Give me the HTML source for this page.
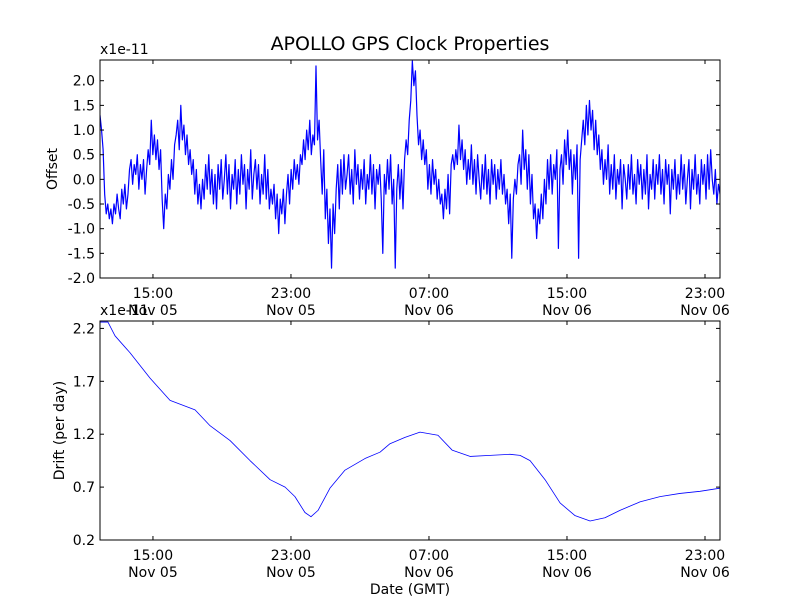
<!DOCTYPE html>
<html><head><meta charset="utf-8"><style>
body{margin:0;background:#fff}
svg{display:block;font-family:"DejaVu Sans","Liberation Sans",sans-serif}
</style></head><body>
<svg id="chart" width="800" height="600" viewBox="0 0 800 600" xmlns="http://www.w3.org/2000/svg">
<rect width="800" height="600" fill="#fff"/>
<text x="410" y="50" text-anchor="middle" font-size="19">APOLLO GPS Clock Properties</text>
<g id="top"></g>
<g id="bot"></g>
</svg>
<script>
const tickHours = [15, 23, 31, 39, 47];
const tickTimes = ["15:00", "23:00", "07:00", "15:00", "23:00"];
const tickDates = ["Nov 05", "Nov 05", "Nov 06", "Nov 06", "Nov 06"];
const offsetTicks = [-2.0, -1.5, -1.0, -0.5, 0.0, 0.5, 1.0, 1.5, 2.0];
const driftTicks = [0.2, 0.7, 1.2, 1.7, 2.2];
const offsetStart = 11.93;
const offsetEnd = 47.87;
const offsetValues = [
1.3,1.0,0.6,-0.3,-0.7,-0.5,-0.8,-0.6,-0.9,-0.5,
-0.7,-0.3,-0.6,-0.8,-0.2,-0.5,-0.1,-0.6,-0.3,0.2,
0.4,-0.1,0.3,0.1,0.5,-0.2,0.3,0.0,0.4,-0.3,
0.2,0.6,0.3,1.2,0.5,0.9,0.4,0.8,0.2,0.6,
-0.4,-1.0,-0.3,-0.6,0.1,-0.2,0.4,0.0,0.7,0.9,
1.2,0.6,1.5,0.8,1.1,0.5,0.9,0.3,0.6,0.1,
0.4,-0.3,0.2,-0.5,-0.1,-0.6,0.0,-0.4,0.3,-0.2,
0.5,-0.3,0.2,-0.5,0.1,-0.6,0.3,-0.2,0.4,-0.4,
0.0,0.5,-0.3,0.3,-0.6,0.1,-0.2,0.4,-0.5,0.2,
-0.3,0.5,-0.1,0.3,-0.6,0.2,-0.2,0.6,-0.4,0.1,
0.4,-0.2,0.3,-0.5,0.1,-0.3,0.5,-0.4,0.2,-0.6,
-0.2,-0.5,-0.1,-0.8,-0.3,-1.1,-0.4,-0.7,-0.2,-0.9,
-0.3,0.1,-0.5,0.2,-0.2,0.4,0.0,0.3,-0.1,0.5,
0.3,0.8,0.4,1.0,0.6,1.2,0.5,0.9,0.7,2.3,
0.8,1.2,0.4,-0.3,0.6,-0.8,-0.2,-1.3,-0.6,-1.8,
-0.5,-1.1,-0.2,0.3,-0.6,0.4,-0.3,0.5,-0.2,0.1,
0.5,-0.3,0.2,-0.5,0.6,-0.1,0.3,-0.4,0.2,-0.2,
0.4,-0.5,0.1,-0.2,0.5,-0.3,0.3,-0.6,0.2,-0.1,
0.3,-0.4,-1.5,0.1,-0.3,0.4,-0.2,0.5,-0.5,0.0,
-1.8,-0.2,0.3,-0.4,0.2,-0.6,0.4,0.8,0.5,1.2,
1.6,2.4,1.9,2.2,1.3,0.7,1.0,0.4,0.8,0.3,
0.6,-0.2,0.3,-0.3,0.4,-0.1,0.2,-0.4,0.0,-0.5,
-0.3,-0.8,-0.2,-0.6,0.1,-0.7,0.3,0.5,0.2,0.6,
0.3,1.1,0.4,0.8,0.2,0.6,-0.1,0.4,0.0,0.7,
-0.1,0.4,-0.3,0.5,0.0,-0.4,0.3,-0.2,0.5,-0.3,
0.2,-0.5,0.4,-0.1,0.3,-0.4,0.2,-0.2,0.4,-0.3,
0.1,-0.5,-0.2,-0.9,-0.3,-1.6,-0.4,0.0,-0.3,0.3,
0.5,-0.1,1.0,0.2,0.6,-0.2,0.5,-0.5,0.1,-0.8,
-0.5,-1.2,-0.6,-0.9,-0.3,-0.8,0.0,-0.5,0.4,-0.2,
0.5,-0.3,0.3,0.0,0.6,-1.4,0.2,0.5,-0.1,0.8,
0.3,1.0,0.2,0.6,-0.3,0.5,0.0,0.7,-1.6,0.4,
0.8,1.2,0.7,1.5,0.9,1.6,1.0,1.4,0.6,1.2,
0.5,0.9,0.2,0.6,-0.1,0.4,0.0,0.7,-0.3,0.3,
-0.2,0.5,-0.4,0.2,-0.1,0.4,-0.6,0.3,0.0,-0.4,
0.3,-0.2,0.5,-0.3,0.1,-0.5,0.4,-0.1,0.3,-0.4,
0.2,-0.3,0.5,-0.6,0.1,-0.2,0.4,-0.4,0.3,-0.1,
0.5,-0.3,0.2,-0.5,0.4,-0.1,0.3,-0.7,0.2,-0.2,
0.4,-0.4,0.1,-0.3,0.5,-0.2,0.3,-0.5,0.0,0.4,
-0.6,0.2,-0.2,0.5,-0.3,0.1,-0.5,0.4,-0.1,0.3,
-0.4,0.5,-0.2,0.6,0.0,-0.3,0.2,-0.5,-0.1,-0.3];
const driftHours = [11.93,12.39,12.80,13.67,14.83,15.99,17.44,18.31,19.47,20.63,21.79,22.66,23.23,23.81,24.16,24.57,25.26,26.13,27.29,28.16,28.74,29.61,30.48,31.52,32.34,33.38,34.54,35.70,36.28,36.86,37.73,38.60,39.47,40.34,41.20,42.07,43.23,44.39,45.55,46.71,47.87];
const driftValues = [2.26,2.26,2.13,1.97,1.73,1.52,1.43,1.28,1.14,0.95,0.77,0.70,0.61,0.46,0.42,0.48,0.69,0.86,0.97,1.03,1.11,1.17,1.22,1.19,1.05,0.99,1.00,1.01,1.00,0.95,0.77,0.55,0.43,0.38,0.41,0.48,0.56,0.61,0.64,0.66,0.69];

const NS = "http://www.w3.org/2000/svg";
const X0 = 100, X1 = 720, H0 = 11.93, H1 = 47.87;
function xs(h){ return X0 + (h - H0) / (H1 - H0) * (X1 - X0); }
function mk(parent, tag, attrs, text){
  const e = document.createElementNS(NS, tag);
  for (const k in attrs) e.setAttribute(k, attrs[k]);
  if (text !== undefined) e.textContent = text;
  parent.appendChild(e);
  return e;
}
function panel(g, top, bottom, ymin, ymax, yticks, fmt, ylabel, hs, vs, lineW, name){
  const ys = v => bottom - (v - ymin) / (ymax - ymin) * (bottom - top);
  const d = hs.map((h, i) => (i ? "L" : "M") + xs(h).toFixed(2) + "," + ys(vs[i]).toFixed(2)).join("");
  const clipId = "clip" + name;
  const cp = mk(g, "clipPath", {id: clipId});
  mk(cp, "rect", {x: X0, y: top, width: X1 - X0, height: bottom - top});
  const line = mk(g, "path", {d: d, fill: "none", stroke: "#0000ff", "stroke-width": lineW, "stroke-linejoin": "round", "clip-path": "url(#" + clipId + ")"});
  
  
  const frame = mk(g, "rect", {x: X0, y: top, width: X1 - X0, height: bottom - top, fill: "none", stroke: "#000", "stroke-width": 1});
  
  
  yticks.forEach(v => {
    const y = ys(v);
    mk(g, "line", {x1: X0, x2: X0 + 4, y1: y, y2: y, stroke: "#000"});
    mk(g, "line", {x1: X1 - 4, x2: X1, y1: y, y2: y, stroke: "#000"});
    const t = mk(g, "text", {x: X0 - 5, y: y + 5, "text-anchor": "end", "font-size": 14}, fmt(v));
    
    
  });
  tickHours.forEach((h, i) => {
    const x = xs(h);
    mk(g, "line", {x1: x, x2: x, y1: bottom, y2: bottom - 4, stroke: "#000"});
    mk(g, "line", {x1: x, x2: x, y1: top, y2: top + 4, stroke: "#000"});
    const t1 = mk(g, "text", {x: x, y: bottom + 20, "text-anchor": "middle", "font-size": 14}, tickTimes[i]);
    
    
    const t2 = mk(g, "text", {x: x, y: bottom + 37, "text-anchor": "middle", "font-size": 14}, tickDates[i]);
    
    
  });
  const mult = mk(g, "text", {x: X0, y: top - 6, "font-size": 14}, "x1e-11");
  
  
  const cy = (top + bottom) / 2;
  const yl = mk(g, "text", {x: 0, y: 0, "text-anchor": "middle", "font-size": 14, transform: "translate(" + (name === "offset" ? 57 : 64) + "," + cy + ") rotate(-90)"}, ylabel);
  
  
}
const offsetHours = offsetValues.map((v, i) => offsetStart + i * (offsetEnd - offsetStart) / (offsetValues.length - 1));
panel(document.getElementById("top"), 60, 278, -2.0, 2.42, offsetTicks, v => v.toFixed(1), "Offset", offsetHours, offsetValues, 1.2, "offset");
panel(document.getElementById("bot"), 321, 540, 0.2, 2.27, driftTicks, v => v.toFixed(1), "Drift (per day)", driftHours, driftValues, 0.8, "drift");
const xl = mk(document.getElementById("bot"), "text", {x: 410, y: 594, "text-anchor": "middle", "font-size": 14}, "Date (GMT)");


</script>
</body></html>
